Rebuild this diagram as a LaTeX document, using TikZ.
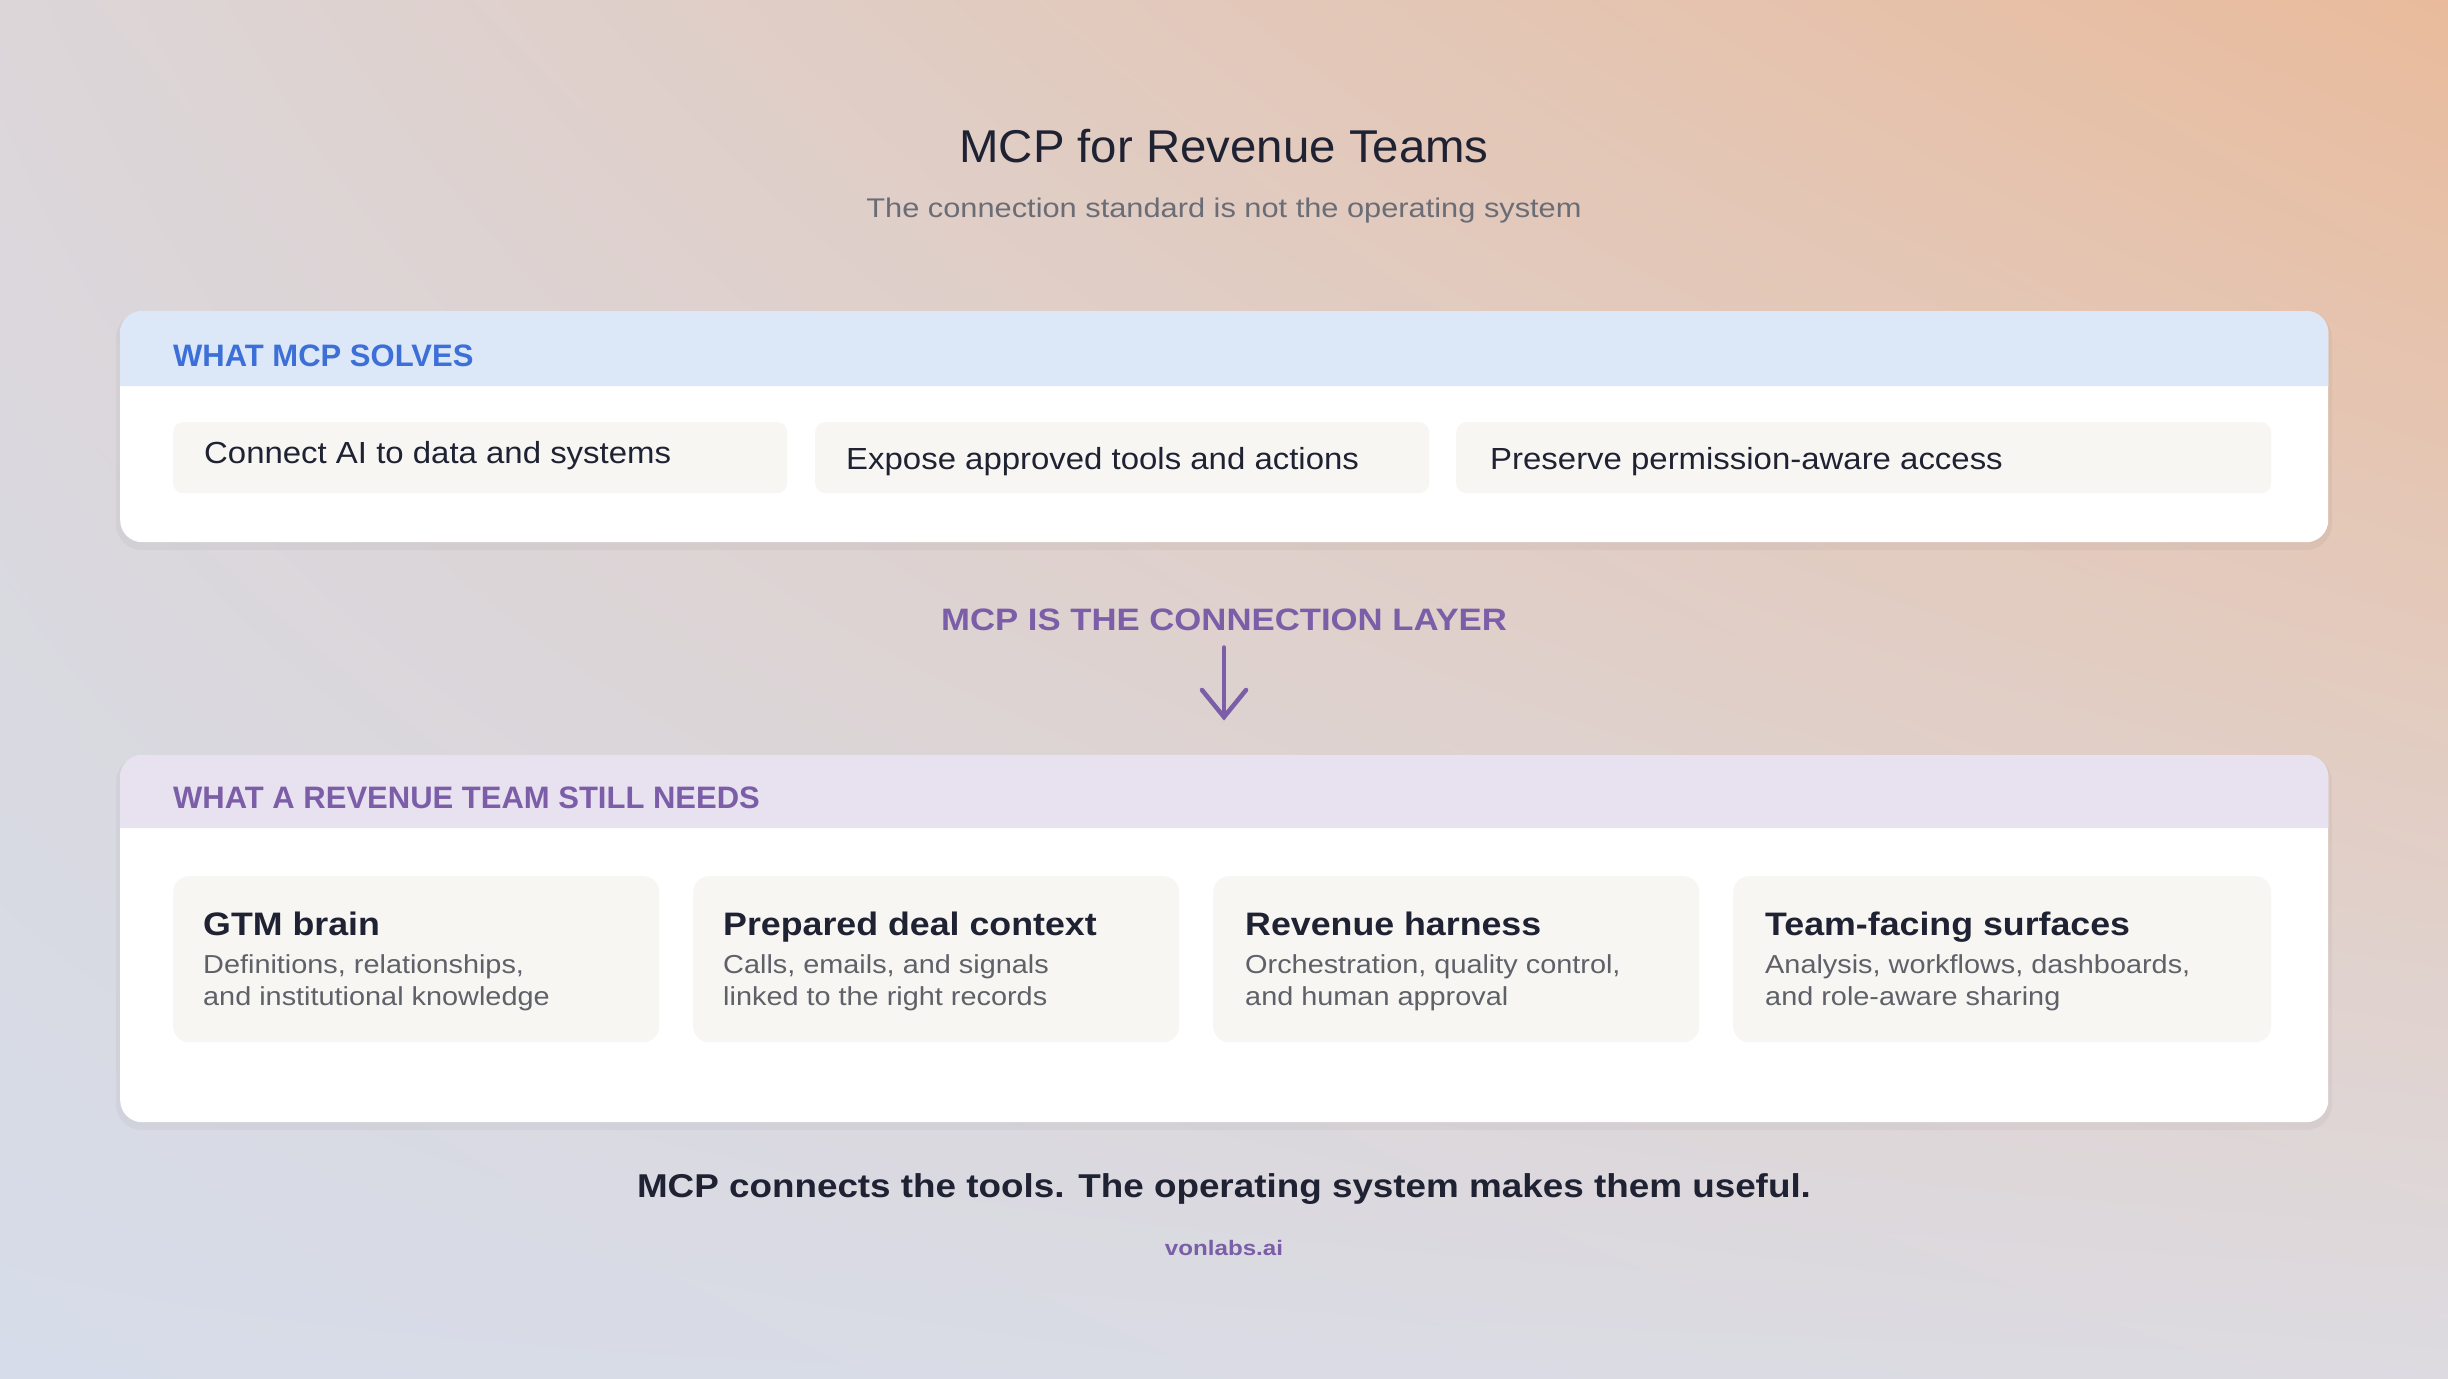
\documentclass[tikz,border=0pt]{standalone}
\usepackage{fontspec}
\setmainfont{Liberation Sans}
\usepackage{graphicx}
\usetikzlibrary{shadings}
\definecolor{ink}{HTML}{1F2232}
\definecolor{subgray}{HTML}{6B6D76}
\definecolor{cardgray}{HTML}{5F6169}
\definecolor{hblue}{HTML}{3C6FD8}
\definecolor{purp}{HTML}{7B5EA7}
\definecolor{bandblue}{HTML}{DCE8F8}
\definecolor{bandlav}{HTML}{E8E1EF}
\definecolor{boxfill}{HTML}{F7F6F3}
\definecolor{bgUL}{HTML}{DCD6D9}
\definecolor{bgUR}{HTML}{E9BB9C}
\definecolor{bgLL}{HTML}{D6DCE9}
\definecolor{bgLR}{HTML}{DDDBE1}
\newcommand\myfs[1]{\fontsize{#1}{#1}\selectfont}
\newcommand\sx[2]{\scalebox{#1}[1]{#2}}
\tikzset{
  panel/.style={fill=white, rounded corners=22pt, inner sep=0pt, anchor=north west, minimum width=2208pt},
  itembox/.style={fill=boxfill, rounded corners=10pt, inner sep=0pt, anchor=north west, minimum height=71pt},
  card/.style={fill=boxfill, rounded corners=16pt, inner sep=0pt, anchor=north west, minimum height=166pt},
  txt/.style={inner sep=0pt, anchor=base west},
  ctxt/.style={inner sep=0pt, anchor=base},
  headlbl/.style={txt, font=\bfseries\myfs{31}},
  itemtxt/.style={txt, text=ink, font=\myfs{30.5}},
  cardtitle/.style={txt, text=ink, font=\bfseries\myfs{32.5}},
  cardsub/.style={txt, text=cardgray, font=\myfs{26}},
  shadowbox/.style={fill=black, opacity=0.035, rounded corners=26pt},
  flow/.style={draw=purp, line width=4.5pt, line cap=round, line join=round}
}
\begin{document}
\begin{tikzpicture}[x=1pt,y=-1pt]
\useasboundingbox (0,0) rectangle (2448,1378);
% background
\shade[upper left=bgUL, upper right=bgUR, lower left=bgLL, lower right=bgLR] (0,0) rectangle (2448,1378);

% title
\node[ctxt, text=ink, font=\myfs{46}] (title) at (1224,162) {\sx{1.03}{MCP for Revenue Teams}};
\node[ctxt, text=subgray, font=\myfs{27}] (subtitle) at (1224,217) {\sx{1.14}{The connection standard is not the operating system}};

% top panel
\fill[shadowbox] (116,312) rectangle (2332,550);
\node[panel, minimum height=231pt] (p1) at (120,311) {};
\fill[bandblue] ([yshift=-75pt]p1.north west) {[rounded corners=22pt] -- (p1.north west) -- (p1.north east)} -- ([yshift=-75pt]p1.north east) -- cycle;
\node[headlbl, text=hblue] (h1) at (173,366) {WHAT MCP SOLVES};

\node[itembox, minimum width=614pt] (b1) at (173,422) {};
\node[itembox, minimum width=614pt] (b2) at (815,422) {};
\node[itembox, minimum width=815pt] (b3) at (1456,422) {};
\node[itemtxt] (t1) at (204,463) {\sx{1.08}{Connect AI to data and systems}};
\node[itemtxt] (t2) at (846,469) {\sx{1.08}{Expose approved tools and actions}};
\node[itemtxt] (t3) at (1490,469) {\sx{1.08}{Preserve permission-aware access}};

% middle
\node[ctxt, text=purp, font=\bfseries\myfs{31}] (mid) at (1224,630) {\sx{1.12}{MCP IS THE CONNECTION LAYER}};
\coordinate (ae) at (1224,717);
\draw[flow] ([yshift=-17pt]mid.south) -- (ae);
\draw[flow, line join=miter] ([shift={(-22,-27)}]ae) -- (ae) -- ([shift={(22,-27)}]ae);

% bottom panel
\fill[shadowbox] (116,756) rectangle (2332,1130);
\node[panel, minimum height=367pt] (p2) at (120,755) {};
\fill[bandlav] ([yshift=-73pt]p2.north west) {[rounded corners=22pt] -- (p2.north west) -- (p2.north east)} -- ([yshift=-73pt]p2.north east) -- cycle;
\node[headlbl, text=purp] (h2) at (173,808) {WHAT A REVENUE TEAM STILL NEEDS};

\node[card, minimum width=486pt] (c1) at (173,876) {};
\node[card, minimum width=486pt] (c2) at (693,876) {};
\node[card, minimum width=486pt] (c3) at (1213,876) {};
\node[card, minimum width=538pt] (c4) at (1733,876) {};

\node[cardtitle] (c1t) at (203,935) {\sx{1.1}{GTM brain}};
\node[cardsub] (c1a) at (203,973) {\sx{1.11}{Definitions, relationships,}};
\node[cardsub] (c1b) at (203,1005.5) {\sx{1.11}{and institutional knowledge}};

\node[cardtitle] (c2t) at (723,935) {\sx{1.1}{Prepared deal context}};
\node[cardsub] (c2a) at (723,973) {\sx{1.11}{Calls, emails, and signals}};
\node[cardsub] (c2b) at (723,1005.5) {\sx{1.11}{linked to the right records}};

\node[cardtitle] (c3t) at (1245,935) {\sx{1.1}{Revenue harness}};
\node[cardsub] (c3a) at (1245,973) {\sx{1.11}{Orchestration, quality control,}};
\node[cardsub] (c3b) at (1245,1005.5) {\sx{1.11}{and human approval}};

\node[cardtitle] (c4t) at (1765,935) {\sx{1.1}{Team-facing surfaces}};
\node[cardsub] (c4a) at (1765,973) {\sx{1.11}{Analysis, workflows, dashboards,}};
\node[cardsub] (c4b) at (1765,1005.5) {\sx{1.11}{and role-aware sharing}};

% footer
\node[ctxt, text=ink, font=\bfseries\myfs{33}] (foot) at (1224,1197) {\sx{1.116}{MCP connects the tools. The operating system makes them useful.}};
\node[ctxt, text=purp, font=\bfseries\myfs{21}] (brand) at (1224,1255) {\sx{1.15}{vonlabs.ai}};
\end{tikzpicture}
\end{document}
